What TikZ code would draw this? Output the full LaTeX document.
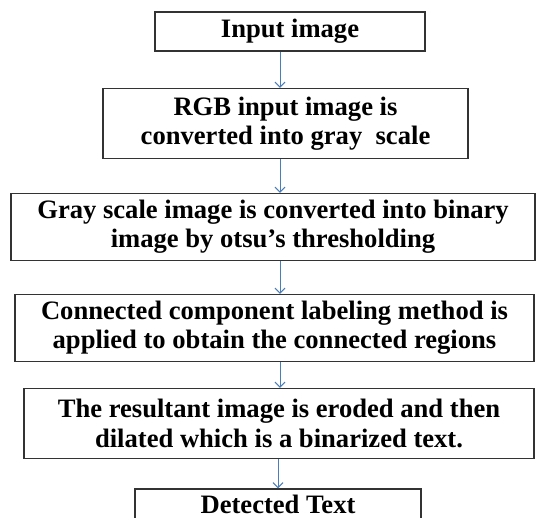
\documentclass[tikz,border=0pt]{standalone}
\usepackage{fontspec}
\setmainfont{Liberation Serif}
\usetikzlibrary{
    arrows.meta
}
\definecolor{flowblue}{RGB}{74,126,187}
\tikzset {
    process/.style = {
        draw = black!80,
        line width = 1.4bp,
        inner sep = 0pt,
        align = center,
        font = \fontsize{26.6bp}{29.3bp}\selectfont\bfseries
    },
    flow/.style = {
        draw = flowblue,
        line width = 1bp,
        -{Straight Barb[length = 5bp, width = 10bp]}
    }
}

\begin{document}
\begin{tikzpicture}[x = 1bp, y = -1bp]
        \useasboundingbox (0, 0) rectangle (536, 518);
        \clip (0, 0) rectangle (536, 518);
        \coordinate (axis) at (280, 0);
        \node [process, minimum width = 270bp, minimum height = 39bp] (input) at (290, 31.5) {Input image};
        \node [process, minimum width = 365bp, minimum height = 70bp] (gray) at (285.5, 123.5)
            {RGB input image is\\converted into gray~ scale};
        \node [process, minimum width = 524bp, minimum height = 67bp] (binary) at (273, 227)
            {Gray scale image is converted into binary\\image by otsu’s thresholding};
        \node [process, minimum width = 519bp, minimum height = 67bp] (label) at (274.5, 328)
            {Connected component labeling method is\\applied to obtain the connected regions};
        \node [process, minimum width = 510bp, minimum height = 70bp] (morph) at (279, 423.5)
            {The resultant image is eroded and then\\dilated which is a binarized text.};
        \node [process, minimum width = 286bp, minimum height = 40bp,
            text height = 18bp, text depth = 10bp] (result) at (278, 509) {Detected Text};
        \draw [flow] (input.south -| axis) -- (gray.north -| axis);
        \draw [flow] (gray.south -| axis) -- (binary.north -| axis);
        \draw [flow] (binary.south -| axis) -- (label.north -| axis);
        \draw [flow] (label.south -| axis) -- (morph.north -| axis);
        \draw [flow] (morph.south -| result) -- (result.north);
    \end{tikzpicture}
\end{document}
